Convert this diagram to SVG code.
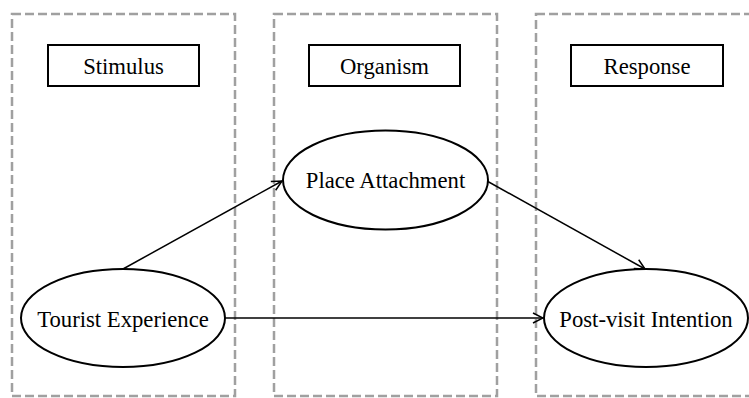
<svg xmlns="http://www.w3.org/2000/svg" width="749" height="398" viewBox="0 0 749 398">
<style>
.panel{fill:none;stroke:#a0a0a0;stroke-width:2.5;stroke-dasharray:9 4}
.title{fill:#fff;stroke:#000;stroke-width:2}
.node{fill:#fff;stroke:#000;stroke-width:2}
.lbl{font-family:"Liberation Serif","Times New Roman",serif;font-size:22.7px;fill:#000;text-anchor:middle;dominant-baseline:central}
.edge{fill:none;stroke:#000;stroke-width:1.5;marker-end:url(#arr)}
</style>
<defs>
<marker id="arr" viewBox="0 0 12 12" refX="11" refY="6" markerWidth="12" markerHeight="12" markerUnits="userSpaceOnUse" orient="auto">
<path d="M1,1 L11,6 L1,11" fill="none" stroke="#000" stroke-width="1.5"/>
</marker>
</defs>
<g id="panel-stimulus">
<rect class="panel" x="12" y="14" width="223" height="382"/>
<rect class="title" x="48" y="45" width="151" height="41"/>
<text class="lbl" x="123.5" y="66">Stimulus</text>
</g>
<g id="panel-organism">
<rect class="panel" x="274" y="14" width="223" height="382"/>
<rect class="title" x="309" y="45" width="151" height="41"/>
<text class="lbl" x="384.5" y="66">Organism</text>
</g>
<g id="panel-response">
<rect class="panel" x="536" y="14" width="230" height="382"/>
<rect class="title" x="571" y="45" width="152" height="41"/>
<text class="lbl" x="647" y="66">Response</text>
</g>
<g id="connectors">
<line class="edge" x1="123" y1="269" x2="282" y2="181"/>
<line class="edge" x1="487" y1="181" x2="645" y2="269"/>
<line class="edge" x1="225" y1="318" x2="543" y2="318"/>
</g>
<g id="node-tourist">
<ellipse class="node" cx="123" cy="318" rx="102" ry="49"/>
<text class="lbl" x="123" y="319">Tourist Experience</text>
</g>
<g id="node-place">
<ellipse class="node" cx="385.5" cy="180" rx="102.5" ry="49.5"/>
<text class="lbl" x="385.5" y="180">Place Attachment</text>
</g>
<g id="node-post">
<ellipse class="node" cx="646" cy="318" rx="102" ry="49"/>
<text class="lbl" x="646" y="319">Post-visit Intention</text>
</g>
</svg>
